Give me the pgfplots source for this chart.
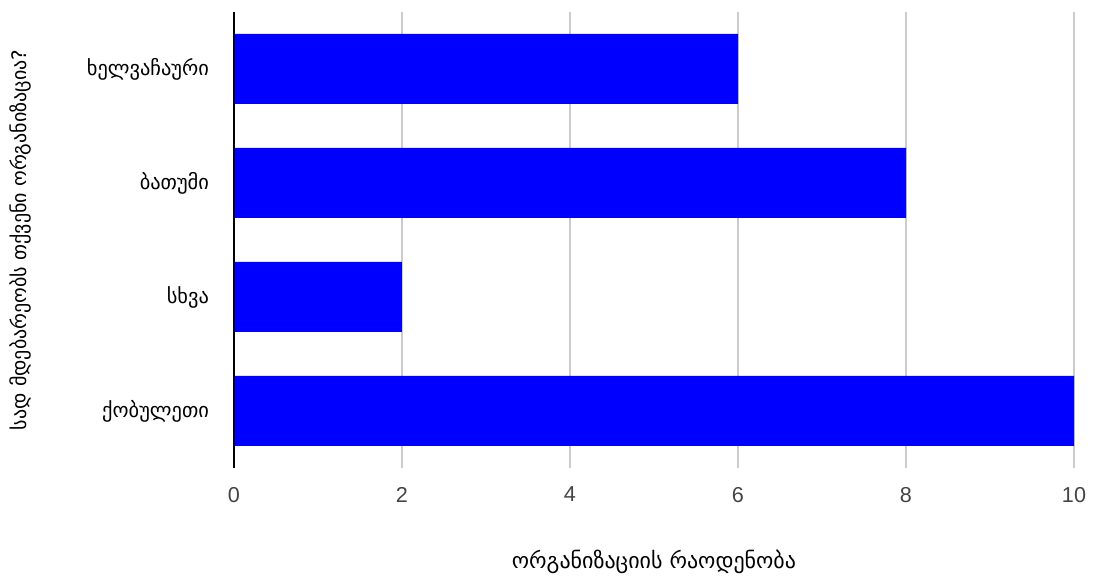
\documentclass[border=0pt]{standalone}
\usepackage{pgfplots}
\pgfplotsset{compat=1.18}
\usepackage{fontspec}
\setmainfont{Liberation Sans}
\newfontfamily\geo{DejaVu Sans}
\definecolor{gridgray}{RGB}{204,204,204}
\definecolor{ticktext}{RGB}{68,68,68}
\begin{document}
\begin{tikzpicture}
\useasboundingbox (-117pt,-54pt) rectangle (432pt,234pt);
\begin{axis}[
  at={(0,0)}, anchor=south west,
  scale only axis, width=420pt, height=228pt,
  xmin=0, xmax=10, ymin=-0.5, ymax=3.5,
  xtick={0,2,4,6,8,10},
  ytick={0,1,2,3},
  yticklabels={ქობულეთი,სხვა,ბათუმი,ხელვაჩაური},
  yticklabel style={font=\geo\fontsize{10.2}{12}\selectfont, text=black, xshift=-9pt},
  xticklabel style={font=\fontsize{10.8}{12}\selectfont, text=ticktext, yshift=-6pt},
  /pgf/number format/assume math mode=true,
  major tick length=0pt,
  axis line style={draw=none},
  xmajorgrids, grid style={gridgray, line width=0.6pt},
  xlabel={\geo\fontsize{11}{12}\selectfont ორგანიზაციის რაოდენობა},
  ylabel={\geo\fontsize{10}{12}\selectfont სად მდებარეობს თქვენი ორგანიზაცია?},
  xlabel style={at={(axis description cs:0.5,0)}, anchor=center, yshift=-47pt},
  ylabel style={at={(axis description cs:0,0.5)}, anchor=center, rotate=0, yshift=107pt},
  clip=false,
]
\addplot[xbar, bar width=0.614, fill={rgb,255:red,0;green,0;blue,255}, draw=none]
  coordinates {(10,0) (2,1) (8,2) (6,3)};
\draw[black, line width=0.8pt] (axis cs:0,-0.5) -- (axis cs:0,3.5);
\end{axis}
\end{tikzpicture}
\end{document}
